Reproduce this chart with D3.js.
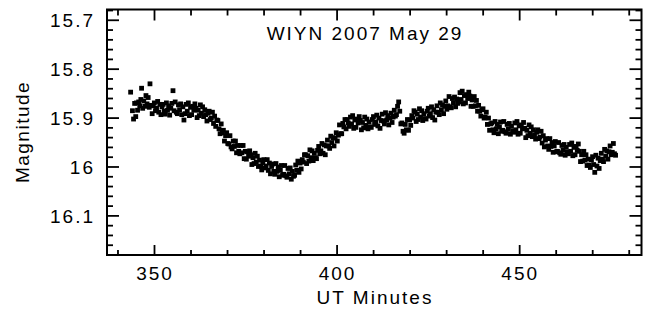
<!DOCTYPE html>
<html><head><meta charset="utf-8">
<script src="https://cdn.jsdelivr.net/npm/d3@7"></script>
<style>
html,body{margin:0;padding:0;background:#fff;}
svg{display:block;}
text{font-family:"Liberation Sans",Arial,sans-serif;fill:#000;}
</style></head>
<body><svg id="chart" width="652" height="309"></svg>
<script>
const minutes = [
343.6,344.1,344.4,344.7,345.0,345.2,345.5,345.8,346.1,346.4,
346.6,346.9,347.2,347.5,347.8,348.1,348.4,348.7,348.9,349.2,
349.5,349.8,350.1,350.4,350.7,351.0,351.3,351.6,351.9,352.2,
352.5,352.8,353.1,353.4,353.7,354.0,354.3,354.6,354.9,355.2,
355.5,355.8,356.1,356.4,356.7,357.0,357.3,357.6,357.9,358.2,
358.5,358.8,359.1,359.4,359.7,360.0,360.3,360.6,360.9,361.2,
361.5,361.8,362.1,362.4,362.7,363.0,363.3,363.6,363.9,364.2,
364.5,364.8,365.1,365.4,365.7,366.0,366.3,366.6,366.9,367.2,
367.5,367.8,368.1,368.4,368.7,369.0,369.3,369.6,369.9,370.2,
370.5,370.8,371.1,371.4,371.7,372.0,372.3,372.6,372.9,373.2,
373.5,373.8,374.1,374.4,374.7,375.0,375.3,375.6,375.9,376.2,
376.5,376.8,377.1,377.4,377.7,378.0,378.3,378.6,378.9,379.2,
379.5,379.8,380.1,380.4,380.7,381.0,381.3,381.6,381.9,382.2,
382.5,382.8,383.1,383.4,383.7,384.0,384.3,384.6,384.9,385.2,
385.5,385.8,386.1,386.4,386.7,387.0,387.3,387.6,387.9,388.2,
388.5,388.8,389.1,389.4,389.7,390.0,390.3,390.6,390.9,391.2,
391.5,391.8,392.1,392.4,392.7,393.0,393.3,393.6,393.9,394.2,
394.5,394.8,395.1,395.4,395.7,396.0,396.3,396.6,396.9,397.2,
397.5,397.8,398.1,398.4,398.7,399.0,399.3,399.6,399.9,400.2,
400.5,400.8,401.1,401.4,401.7,402.0,402.3,402.6,402.9,403.2,
403.5,403.8,404.1,404.4,404.7,405.0,405.3,405.6,405.9,406.2,
406.5,406.8,407.1,407.4,407.7,408.0,408.3,408.6,408.9,409.2,
409.5,409.8,410.1,410.4,410.7,411.0,411.3,411.6,411.9,412.2,
412.5,412.8,413.1,413.4,413.7,414.0,414.3,414.6,414.9,415.2,
415.5,415.8,416.1,416.4,416.7,417.0,417.3,417.6,417.9,418.2,
418.5,418.8,419.1,419.4,419.7,420.0,420.3,420.6,420.9,421.2,
421.5,421.8,422.1,422.4,422.7,423.0,423.3,423.6,423.9,424.2,
424.5,424.8,425.1,425.4,425.7,426.0,426.3,426.6,426.9,427.2,
427.5,427.8,428.1,428.4,428.7,429.0,429.3,429.6,429.9,430.2,
430.5,430.8,431.1,431.4,431.7,432.0,432.3,432.6,432.9,433.2,
433.5,433.8,434.1,434.4,434.7,435.0,435.3,435.6,435.9,436.2,
436.5,436.8,437.1,437.4,437.7,438.0,438.3,438.6,438.9,439.2,
439.5,439.8,440.1,440.4,440.7,441.0,441.3,441.6,441.9,442.2,
442.5,442.8,443.1,443.4,443.7,444.0,444.3,444.6,444.9,445.2,
445.5,445.8,446.1,446.4,446.7,447.0,447.3,447.6,447.9,448.2,
448.5,448.8,449.1,449.4,449.7,450.0,450.3,450.6,450.9,451.2,
451.5,451.8,452.1,452.4,452.7,453.0,453.3,453.6,453.9,454.2,
454.5,454.8,455.1,455.4,455.7,456.0,456.3,456.6,456.9,457.2,
457.5,457.8,458.1,458.4,458.7,459.0,459.3,459.6,459.9,460.2,
460.5,460.8,461.1,461.4,461.7,462.0,462.3,462.6,462.9,463.2,
463.5,463.8,464.1,464.4,464.7,465.0,465.3,465.6,465.9,466.2,
466.5,466.8,467.1,467.4,467.7,468.0,468.3,468.6,468.9,469.2,
469.5,469.8,470.1,470.4,470.7,471.0,471.3,471.6,471.9,472.2,
472.5,472.8,473.1,473.4,473.7,474.0,474.3,474.6,474.9,475.2,
475.5,475.8,476.1,476.4
];
const magnitudes = [
15.848,15.886,15.903,15.871,15.898,15.870,15.885,15.868,15.876,15.863,
15.840,15.881,15.866,15.877,15.855,15.872,15.859,15.879,15.831,15.875,
15.892,15.876,15.870,15.886,15.881,15.867,15.889,15.873,15.894,15.878,
15.873,15.887,15.893,15.870,15.885,15.876,15.895,15.881,15.871,15.845,
15.886,15.868,15.889,15.892,15.874,15.884,15.872,15.894,15.878,15.905,
15.892,15.873,15.887,15.870,15.896,15.879,15.894,15.877,15.885,15.872,
15.881,15.900,15.885,15.896,15.874,15.891,15.878,15.898,15.884,15.894,
15.907,15.891,15.887,15.904,15.901,15.889,15.912,15.897,15.918,15.905,
15.906,15.923,15.933,15.913,15.931,15.926,15.948,15.937,15.931,15.953,
15.954,15.937,15.960,15.964,15.948,15.959,15.948,15.972,15.957,15.969,
15.974,15.957,15.972,15.957,15.984,15.969,15.985,15.970,15.979,15.968,
15.976,15.996,15.982,15.994,15.973,15.991,15.979,16.000,15.987,15.999,
16.007,15.992,15.986,16.003,15.999,15.986,16.008,15.993,16.015,16.000,
15.995,16.010,16.016,15.994,16.010,16.001,16.021,16.008,15.998,16.018,
16.016,15.998,16.019,16.022,16.004,16.015,16.003,16.026,16.010,16.020,
16.018,15.997,16.008,15.989,16.012,15.993,16.005,15.986,15.991,15.976,
15.976,15.994,15.978,15.989,15.966,15.982,15.968,15.988,15.973,15.982,
15.984,15.967,15.959,15.974,15.968,15.953,15.973,15.956,15.976,15.958,
15.946,15.958,15.963,15.938,15.951,15.941,15.958,15.942,15.931,15.948,
15.936,15.915,15.933,15.933,15.912,15.919,15.904,15.923,15.904,15.911,
15.918,15.899,15.913,15.896,15.922,15.905,15.920,15.903,15.911,15.898,
15.906,15.925,15.910,15.921,15.899,15.916,15.903,15.923,15.909,15.919,
15.920,15.904,15.898,15.914,15.909,15.895,15.917,15.901,15.922,15.906,
15.893,15.907,15.913,15.890,15.905,15.896,15.915,15.901,15.891,15.910,
15.899,15.885,15.897,15.894,15.877,15.868,15.887,15.913,15.911,15.928,
15.932,15.914,15.925,15.904,15.926,15.905,15.916,15.896,15.901,15.886,
15.889,15.908,15.893,15.904,15.882,15.899,15.886,15.906,15.892,15.902,
15.903,15.887,15.881,15.897,15.892,15.878,15.900,15.884,15.905,15.889,
15.876,15.889,15.894,15.870,15.884,15.874,15.892,15.877,15.866,15.883,
15.876,15.857,15.878,15.880,15.861,15.870,15.858,15.878,15.862,15.871,
15.868,15.849,15.863,15.846,15.872,15.855,15.870,15.853,15.861,15.848,
15.856,15.877,15.864,15.877,15.857,15.876,15.865,15.887,15.875,15.887,
15.897,15.884,15.882,15.901,15.899,15.889,15.914,15.901,15.926,15.913,
15.911,15.925,15.931,15.908,15.923,15.914,15.933,15.919,15.909,15.928,
15.926,15.908,15.929,15.932,15.914,15.924,15.912,15.934,15.918,15.928,
15.930,15.911,15.925,15.908,15.934,15.917,15.932,15.915,15.923,15.910,
15.922,15.941,15.926,15.937,15.915,15.932,15.919,15.939,15.925,15.935,
15.944,15.930,15.925,15.943,15.940,15.928,15.952,15.937,15.960,15.946,
15.943,15.958,15.965,15.943,15.959,15.951,15.971,15.958,15.949,15.970,
15.969,15.951,15.972,15.975,15.957,15.967,15.955,15.977,15.961,15.971,
15.974,15.955,15.969,15.952,15.978,15.961,15.976,15.959,15.967,15.954,
15.969,15.990,15.976,15.989,15.969,15.987,15.976,15.998,15.985,15.997,
16.002,15.986,15.980,15.996,16.012,15.977,15.999,15.983,16.004,15.988,
15.973,15.985,15.990,15.965,15.979,15.968,15.985,15.970,15.958,15.976,
15.971,15.953,15.974,15.977
];
const xMajorTicks = [350, 400, 450];
const xTickLabels = ["350", "400", "450"];
const xMinorTicks = [340, 360, 370, 380, 390, 410, 420, 430, 440, 460, 470, 480];
const yMajorTicks = [15.7, 15.8, 15.9, 16.0, 16.1];
const yTickLabels = ["15.7", "15.8", "15.9", "16", "16.1"];
const yMinorTicks = [15.68, 15.72, 15.74, 15.76, 15.78, 15.82, 15.84, 15.86, 15.88,
  15.92, 15.94, 15.96, 15.98, 16.02, 16.04, 16.06, 16.08, 16.12, 16.14, 16.16, 16.18];
const title = "WIYN 2007 May 29";
const xTitle = "UT Minutes";
const yTitle = "Magnitude";

const L = 107, R = 641.5, T = 9.5, B = 255;
const svg = d3.select("#chart");
const x = d3.scaleLinear().domain([337.13, 483.5]).range([L, R]);
const y = d3.scaleLinear().domain([15.679, 16.181]).range([T, B]);

const data = minutes.map((m, i) => ({t: m, mag: magnitudes[i]}));

// points
svg.append("g").selectAll("rect").data(data).join("rect")
  .attr("x", d => x(d.t) - 2.4).attr("y", d => y(d.mag) - 2.4)
  .attr("width", 4.8).attr("height", 4.8).attr("fill", "#000");

function styleAxis(g){
  g.select(".domain").remove();
  g.selectAll("text").remove();
  g.selectAll("line").attr("stroke", "#000").attr("stroke-width", 1.8);
}
// bottom
svg.append("g").attr("transform", `translate(0,${B})`)
  .call(d3.axisBottom(x).tickValues(xMajorTicks).tickSize(-10)).call(styleAxis);
svg.append("g").attr("transform", `translate(0,${B})`)
  .call(d3.axisBottom(x).tickValues(xMinorTicks).tickSize(-5)).call(styleAxis);
// top
svg.append("g").attr("transform", `translate(0,${T})`)
  .call(d3.axisTop(x).tickValues(xMajorTicks).tickSize(-11)).call(styleAxis);
svg.append("g").attr("transform", `translate(0,${T})`)
  .call(d3.axisTop(x).tickValues(xMinorTicks).tickSize(-6)).call(styleAxis);
// left
svg.append("g").attr("transform", `translate(${L},0)`)
  .call(d3.axisLeft(y).tickValues(yMajorTicks).tickSize(-12)).call(styleAxis);
svg.append("g").attr("transform", `translate(${L},0)`)
  .call(d3.axisLeft(y).tickValues(yMinorTicks).tickSize(-6)).call(styleAxis);
// right
svg.append("g").attr("transform", `translate(${R},0)`)
  .call(d3.axisRight(y).tickValues(yMajorTicks).tickSize(-12)).call(styleAxis);
svg.append("g").attr("transform", `translate(${R},0)`)
  .call(d3.axisRight(y).tickValues(yMinorTicks).tickSize(-6)).call(styleAxis);

// frame
svg.append("rect").attr("x", L).attr("y", T).attr("width", R - L).attr("height", B - T)
  .attr("fill", "none").attr("stroke", "#000").attr("stroke-width", 2);

// tick labels
svg.append("g").selectAll("text").data(xMajorTicks).join("text")
  .attr("x", d => x(d) + 1).attr("y", 280).attr("text-anchor", "middle")
  .attr("font-size", 19).attr("letter-spacing", 2)
  .text((d, i) => xTickLabels[i]);
svg.append("g").selectAll("text").data(yMajorTicks).join("text")
  .attr("x", 95).attr("y", d => y(d) + 7.5).attr("text-anchor", "end")
  .attr("font-size", 19).attr("letter-spacing", 2)
  .text((d, i) => yTickLabels[i]);

// titles
svg.append("text").attr("x", 365).attr("y", 40).attr("text-anchor", "middle")
  .attr("font-size", 19).attr("letter-spacing", 2).text(title);
svg.append("text").attr("x", 375).attr("y", 304).attr("text-anchor", "middle")
  .attr("font-size", 19).attr("letter-spacing", 2).text(xTitle);
svg.append("text").attr("transform", "translate(29,132) rotate(-90)").attr("text-anchor", "middle")
  .attr("font-size", 19).attr("letter-spacing", 1.5).text(yTitle);
</script></body></html>
